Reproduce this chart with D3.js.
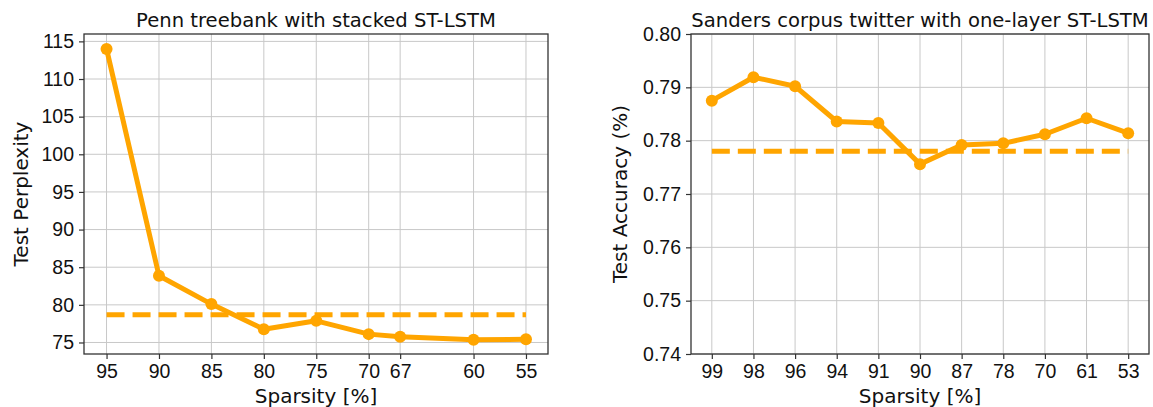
<!DOCTYPE html>
<html>
<head>
<meta charset="utf-8">
<script src="https://cdn.jsdelivr.net/npm/d3@7"></script>
<style>
    body { margin: 0; background: #fff; }
    svg { display: block; font-family: "DejaVu Sans", sans-serif; }
    .grid line { stroke: #c8c8c8; stroke-width: 1; }
    .frame { fill: none; stroke: #333; stroke-width: 1.3; }
    .tick text { font-size: 19.5px; fill: #111; }
    .tick line { stroke: #333; stroke-width: 1.2; }
    .title { font-size: 19.6px; fill: #111; }
    .label { font-size: 20px; fill: #111; }
</style>
</head>
<body>
<div id="chart"></div>
<script>
// Penn treebank panel
const pennSparsity = [95, 90, 85, 80, 75, 70, 67, 60, 55];
const pennPerplexity = [114.0, 83.86, 80.1, 76.77, 77.88, 76.11, 75.75, 75.35, 75.44];
const pennBaseline = 78.68;
const pennYTicks = [75, 80, 85, 90, 95, 100, 105, 110, 115];

// Sanders twitter panel
const sandersSparsity = ["99", "98", "96", "94", "91", "90", "87", "78", "70", "61", "53"];
const sandersAccuracy = [0.7875, 0.7919, 0.7902, 0.7836, 0.7833, 0.7756, 0.7792, 0.7795, 0.7812, 0.7842, 0.7814];
const sandersBaseline = 0.7780;
const sandersYTicks = [0.74, 0.75, 0.76, 0.77, 0.78, 0.79, 0.80];

const settings = {
    width: 1153,
    height: 407,
    color: "#ffa500",
    lineWidth: 5,
    markerRadius: 6,
    tickSize: 5,
};

const svg = d3.select("#chart").append("svg")
    .attr("width", settings.width)
    .attr("height", settings.height);

function drawPanel(p) {
    const { xScale, yScale, left, right, top, bottom } = p;
    const g = svg.append("g");

    // grid
    const grid = g.append("g").classed("grid", true);
    grid.selectAll(".gx").data(p.xTicks).join("line")
        .attr("x1", d => xScale(d)).attr("x2", d => xScale(d))
        .attr("y1", top).attr("y2", bottom);
    grid.selectAll(".gy").data(p.yTicks).join("line")
        .attr("x1", left).attr("x2", right)
        .attr("y1", d => yScale(d)).attr("y2", d => yScale(d));

    // axes
    const xAxis = g.append("g")
        .attr("transform", `translate(0,${bottom})`)
        .call(d3.axisBottom(xScale).tickValues(p.xTicks).tickSize(settings.tickSize).tickPadding(5).tickFormat(p.xFormat));
    const yAxis = g.append("g")
        .attr("transform", `translate(${left},0)`)
        .call(d3.axisLeft(yScale).tickValues(p.yTicks).tickSize(settings.tickSize).tickPadding(5).tickFormat(p.yFormat));
    xAxis.select(".domain").remove();
    yAxis.select(".domain").remove();

    g.append("rect").classed("frame", true)
        .attr("x", left).attr("y", top)
        .attr("width", right - left).attr("height", bottom - top);

    // baseline
    g.append("line")
        .attr("x1", xScale(p.xs[0])).attr("x2", xScale(p.xs[p.xs.length - 1]))
        .attr("y1", yScale(p.baseline)).attr("y2", yScale(p.baseline))
        .attr("stroke", settings.color)
        .attr("stroke-width", settings.lineWidth)
        .attr("stroke-dasharray", "18,8");

    // series
    const line = d3.line().x((d, i) => xScale(p.xs[i])).y(d => yScale(d));
    g.append("path").datum(p.ys)
        .attr("d", line)
        .attr("fill", "none")
        .attr("stroke", settings.color)
        .attr("stroke-width", settings.lineWidth)
        .attr("stroke-linejoin", "round");
    g.selectAll(".dot").data(p.ys).join("circle")
        .attr("cx", (d, i) => xScale(p.xs[i]))
        .attr("cy", d => yScale(d))
        .attr("r", settings.markerRadius)
        .attr("fill", settings.color);

    // texts
    const cx = (left + right) / 2;
    g.append("text").classed("title", true)
        .attr("x", cx).attr("y", 27).attr("text-anchor", "middle")
        .text(p.title);
    g.append("text").classed("label", true)
        .attr("x", cx).attr("y", 403).attr("text-anchor", "middle")
        .text("Sparsity [%]");
    g.append("text").classed("label", true)
        .attr("transform", `translate(${p.yLabelX},${(top + bottom) / 2}) rotate(-90)`)
        .attr("text-anchor", "middle")
        .text(p.yLabel);
}

// left panel
const leftBox = { left: 84, right: 548, top: 34, bottom: 354 };
drawPanel({
    ...leftBox,
    xScale: d3.scaleLinear().domain([97.15, 52.9]).range([leftBox.left, leftBox.right]),
    yScale: d3.scaleLinear().domain([73.47, 115.98]).range([leftBox.bottom, leftBox.top]),
    xs: pennSparsity,
    ys: pennPerplexity,
    xTicks: pennSparsity,
    yTicks: pennYTicks,
    xFormat: d3.format("d"),
    yFormat: d3.format("d"),
    baseline: pennBaseline,
    title: "Penn treebank with stacked ST-LSTM",
    yLabel: "Test Perplexity",
    yLabelX: 28,
});

// right panel
const rightBox = { left: 691, right: 1149, top: 34, bottom: 354 };
drawPanel({
    ...rightBox,
    xScale: d3.scalePoint().domain(sandersSparsity).range([rightBox.left, rightBox.right]).padding(0.5),
    yScale: d3.scaleLinear().domain([0.74, 0.80]).range([rightBox.bottom, rightBox.top]),
    xs: sandersSparsity,
    ys: sandersAccuracy,
    xTicks: sandersSparsity,
    yTicks: sandersYTicks,
    xFormat: d => d,
    yFormat: d3.format(".2f"),
    baseline: sandersBaseline,
    title: "Sanders corpus twitter with one-layer ST-LSTM",
    yLabel: "Test Accuracy (%)",
    yLabelX: 627,
});
</script>
</body>
</html>
